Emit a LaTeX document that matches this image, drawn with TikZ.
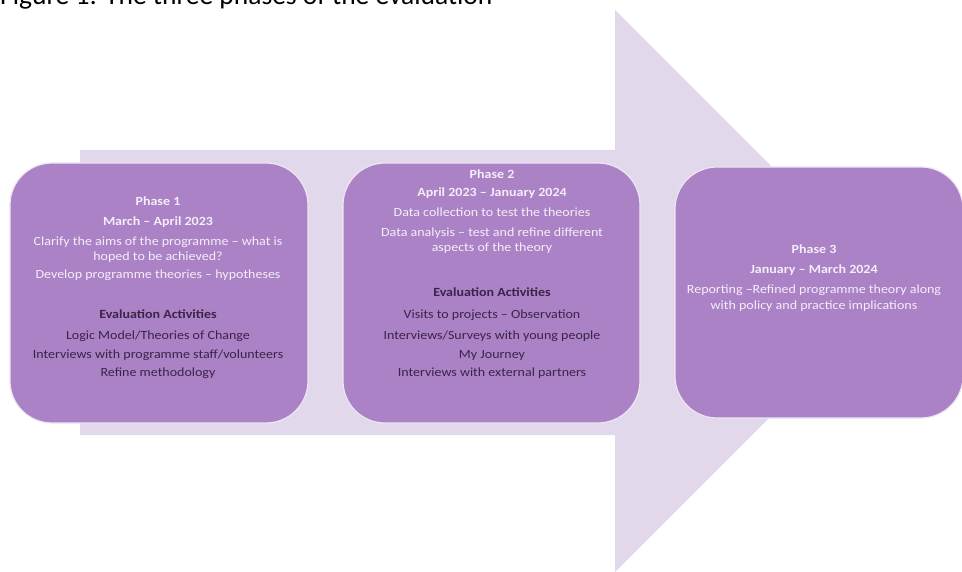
\documentclass[tikz,border=0pt]{standalone}
\usepackage{fontspec}
\setmainfont{Carlito}
\newfontfamily\boxfont[FakeStretch=1.12]{Carlito}
\definecolor{arrowc}{HTML}{E1D8EB}
\definecolor{boxc}{HTML}{AB82C5}
\definecolor{boxline}{HTML}{EFE6F5}
\definecolor{lighttext}{HTML}{F4EEF8}
\definecolor{darktext}{HTML}{3A2448}
\begin{document}
\begin{tikzpicture}[x=1pt,y=-1pt,
  phasebox/.style={draw=boxline, line width=1.2pt, fill=boxc, rounded corners=42pt, inner sep=0pt},
  lt/.style={anchor=base, text=lighttext, font=\boxfont\fontsize{12.5}{15}\selectfont, inner sep=0pt},
  ltb/.style={lt, font=\boxfont\fontsize{12.5}{15}\selectfont\bfseries},
  dt/.style={anchor=base, text=darktext, font=\boxfont\fontsize{12.5}{15}\selectfont, inner sep=0pt},
  dtb/.style={dt, font=\boxfont\fontsize{12.5}{15}\selectfont\bfseries}]
\useasboundingbox (0,0) rectangle (962,572);
\fill[white] (0,0) rectangle (962,572);
\node[anchor=base west, inner sep=0pt, font=\fontsize{27.5}{32}\selectfont] (title) at (0,5) {Figure 1: The three phases of the evaluation};
% big arrow
\fill[arrowc] (80,150) -- (615,150) -- (615,10) -- (896,291) -- (615,572) -- (615,435) -- (80,435) -- cycle;
% boxes
\node[phasebox, minimum width=298pt, minimum height=260pt] (p1) at (159,293) {};
\node[phasebox, minimum width=297pt, minimum height=260pt] (p2) at (491.5,293) {};
\node[phasebox, minimum width=288pt, minimum height=251pt] (p3) at (819,292.5) {};
% phase 1 text
\node[ltb] (p1a) at (158,206) {Phase 1};
\node[ltb] (p1b) at (158,226) {March – April 2023};
\node[lt]  (p1c) at (158,246) {Clarify the aims of the programme – what is};
\node[lt]  (p1d) at (158,261) {hoped to be achieved?};
\node[lt]  (p1e) at (158,279) {Develop programme theories – hypotheses};
\node[dtb] (p1f) at (158,319) {Evaluation Activities};
\node[dt]  (p1g) at (158,339) {Logic Model/Theories of Change};
\node[dt]  (p1h) at (158,359) {Interviews with programme staff/volunteers};
\node[dt]  (p1i) at (158,377) {Refine methodology};
% phase 2 text
\node[ltb] (p2a) at (492,179) {Phase 2};
\node[ltb] (p2b) at (492,197) {April 2023 – January 2024};
\node[lt]  (p2c) at (492,217) {Data collection to test the theories};
\node[lt]  (p2d) at (492,237) {Data analysis – test and refine different};
\node[lt]  (p2e) at (492,252) {aspects of the theory};
\node[dtb] (p2f) at (492,297) {Evaluation Activities};
\node[dt]  (p2g) at (492,319) {Visits to projects – Observation};
\node[dt]  (p2h) at (492,339) {Interviews/Surveys with young people};
\node[dt]  (p2i) at (492,359) {My Journey};
\node[dt]  (p2j) at (492,377) {Interviews with external partners};
% phase 3 text
\node[ltb] (p3a) at (814,254) {Phase 3};
\node[ltb] (p3b) at (814,274) {January – March 2024};
\node[lt]  (p3c) at (814,294) {Reporting –Refined programme theory along};
\node[lt]  (p3d) at (814,309) {with policy and practice implications};
\end{tikzpicture}
\end{document}
